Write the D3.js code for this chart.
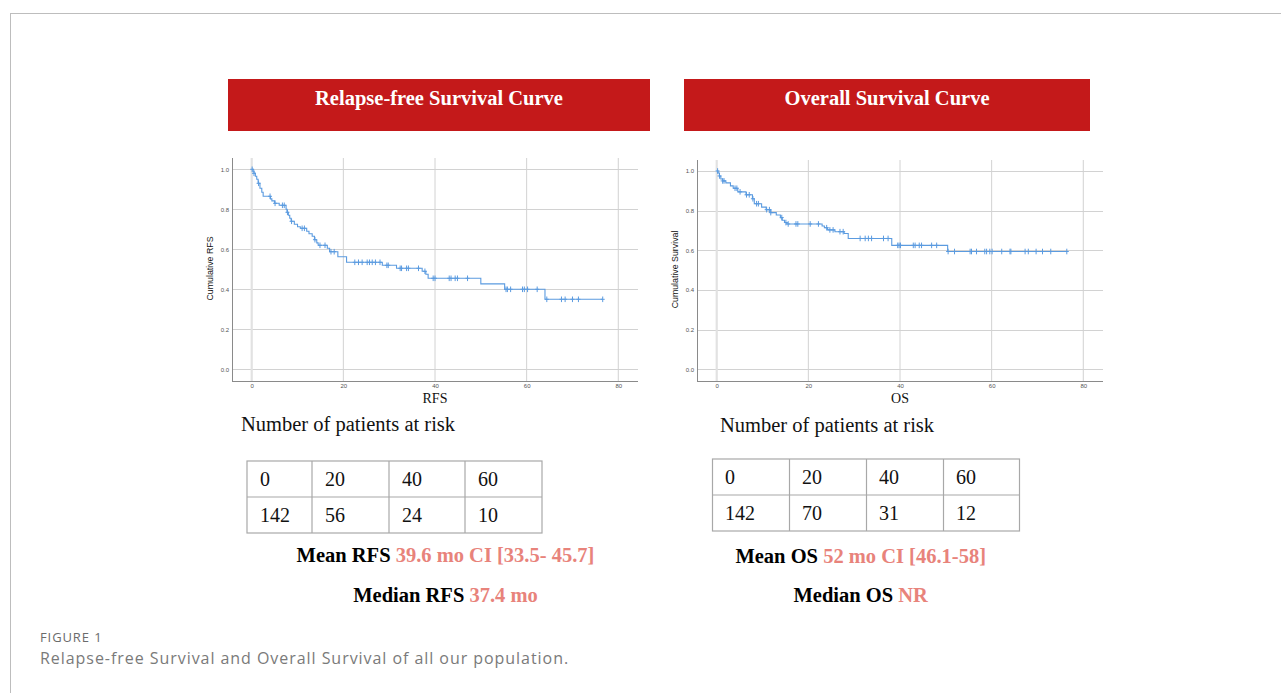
<!DOCTYPE html>
<html>
<head>
<meta charset="utf-8">
<script src="https://cdn.jsdelivr.net/npm/d3@7"></script>
<style>
  html, body { margin: 0; padding: 0; background: #fff; }
  svg { display: block; }
</style>
</head>
<body>
<svg id="chart" width="1281" height="693"></svg>
<script>
// ---------------- DATA ----------------
const xTicks = [0, 20, 40, 60, 80];
const yTicks = [0.0, 0.2, 0.4, 0.6, 0.8, 1.0];

// Relapse-free survival: step times (months) and survival after each drop
const rfsStepTimes = [0, 0.3, 0.5, 0.8, 1.1, 1.4, 1.8, 2.2, 2.5, 4.1, 4.4, 5.0, 6.0, 7.5, 7.7, 8.0, 8.3, 8.6, 9.3, 10.0, 10.6, 12.0, 12.5, 13.2, 13.7, 14.2, 14.5, 16.5, 17.0, 18.8, 20.7, 28.5, 31.6, 37.2, 38.0, 38.5, 50.0, 55.2, 64.0];
const rfsStepSurv  = [1.0, 0.99, 0.98, 0.965, 0.95, 0.93, 0.905, 0.885, 0.865, 0.852, 0.842, 0.83, 0.82, 0.80, 0.785, 0.77, 0.755, 0.74, 0.725, 0.713, 0.705, 0.69, 0.678, 0.665, 0.648, 0.632, 0.62, 0.605, 0.588, 0.563, 0.535, 0.52, 0.505, 0.49, 0.475, 0.455, 0.427, 0.40, 0.35];
const rfsEnd = 76.6;
const rfsCensored = [0.1, 0.5, 1.5, 4.0, 5.1, 6.7, 7.1, 7.8, 8.7, 11.0, 11.5, 13.8, 14.9, 16.0, 17.3, 18.0, 22.5, 23.3, 24.1, 25.2, 25.7, 26.3, 27.0, 28.0, 29.5, 29.8, 32.4, 32.7, 33.8, 34.2, 36.4, 37.8, 39.6, 40.0, 43.1, 43.5, 44.4, 44.9, 47.1, 55.5, 55.8, 56.5, 59.1, 59.5, 60.2, 62.3, 64.4, 67.6, 68.4, 70.0, 71.3, 76.6];

// Overall survival
const osStepTimes = [0, 0.3, 0.6, 0.9, 1.3, 2.0, 3.0, 3.6, 4.6, 6.4, 7.8, 8.2, 9.8, 10.8, 11.8, 13.0, 13.9, 14.3, 14.8, 15.3, 23.0, 23.5, 24.2, 25.8, 27.8, 28.7, 38.2, 50.4];
const osStepSurv  = [1.0, 0.99, 0.975, 0.96, 0.95, 0.94, 0.925, 0.913, 0.895, 0.88, 0.86, 0.835, 0.818, 0.805, 0.79, 0.778, 0.765, 0.752, 0.74, 0.733, 0.723, 0.714, 0.703, 0.694, 0.685, 0.66, 0.625, 0.594];
const osEnd = 76.4;
const osCensored = [0.2, 0.6, 1.3, 1.6, 4.0, 4.4, 5.1, 6.5, 7.1, 7.9, 8.7, 9.1, 10.9, 11.5, 11.8, 14.2, 15.1, 15.6, 17.3, 17.7, 20.4, 22.2, 24.0, 24.7, 25.4, 26.9, 27.6, 31.3, 32.4, 33.1, 33.8, 36.4, 37.4, 39.5, 39.8, 40.1, 42.9, 43.3, 44.2, 44.7, 46.9, 48.0, 50.5, 51.9, 55.3, 55.6, 56.7, 58.5, 58.9, 59.6, 60.1, 62.2, 64.0, 64.2, 67.3, 68.0, 69.7, 71.1, 72.9, 76.4];

// Numbers at risk
const riskTimes = [0, 20, 40, 60];
const rfsAtRisk = [142, 56, 24, 10];
const osAtRisk  = [142, 70, 31, 12];

const titles = ["Relapse-free Survival Curve", "Overall Survival Curve"];
const yLabels = ["Cumulative RFS", "Cumulative Survival"];
const xLabels = ["RFS", "OS"];
const meanLabels = [["Mean RFS ", "39.6 mo CI [33.5- 45.7]"], ["Mean OS ", "52 mo CI [46.1-58]"]];
const medianLabels = [["Median RFS ", "37.4 mo"], ["Median OS ", "NR"]];
const captionTitle = "FIGURE 1";
const captionText = "Relapse-free Survival and Overall Survival of all our population.";

// ---------------- DRAWING ----------------
const svg = d3.select("#chart");
const serif = "'Liberation Serif', 'Times New Roman', serif";
const sans = "'Liberation Sans', Arial, sans-serif";
const red = "#c4191a";
const pink = "#e8837b";
const curveColor = "#5b9be0";

// frame
svg.append("line").attr("x1", 10).attr("x2", 1281).attr("y1", 13.5).attr("y2", 13.5).attr("stroke", "#bdbdbd");
svg.append("line").attr("x1", 10.5).attr("x2", 10.5).attr("y1", 13).attr("y2", 693).attr("stroke", "#bdbdbd");

const panels = [
  { box: [228, 79, 422, 52], plot: { l: 232, r: 638, t: 158, b: 381 }, yDom: [-0.0585, 1.0565],
    times: rfsStepTimes, surv: rfsStepSurv, end: rfsEnd, cens: rfsCensored, risk: rfsAtRisk,
    table: { x: 247, y: 461, colW: [65, 77, 76, 77], rowH: 36, textDx: 13, base: [24.5, 61] },
    nrX: 241, nrY: 431, meanX: 445.5, meanY: 562, medY: 602, yLabX: 210 },
  { box: [684, 79, 406, 52], plot: { l: 697, r: 1103, t: 160, b: 381 }, yDom: [-0.059, 1.0555],
    times: osStepTimes, surv: osStepSurv, end: osEnd, cens: osCensored, risk: osAtRisk,
    table: { x: 712.5, y: 459, colW: [77, 77, 77, 76], rowH: 36, textDx: 12.5, base: [24.5, 61] },
    nrX: 720, nrY: 432, meanX: 860.7, meanY: 563, medY: 602, yLabX: 675 }
];

panels.forEach((p, i) => {
  const g = svg.append("g");
  // title box
  g.append("rect").attr("x", p.box[0]).attr("y", p.box[1]).attr("width", p.box[2]).attr("height", p.box[3]).attr("fill", red);
  g.append("text").attr("x", p.box[0] + p.box[2] / 2).attr("y", p.box[1] + 26)
    .attr("text-anchor", "middle").attr("font-family", serif).attr("font-weight", "bold")
    .attr("font-size", 20.5).attr("fill", "#fff").text(titles[i]);

  const x = d3.scaleLinear().domain([-4.3, 84.3]).range([p.plot.l, p.plot.r]);
  const y = d3.scaleLinear().domain(p.yDom).range([p.plot.b, p.plot.t]);

  // gridlines
  g.append("g").selectAll("line").data(yTicks).join("line")
    .attr("x1", p.plot.l).attr("x2", p.plot.r)
    .attr("y1", d => Math.round(y(d)) + 0.5).attr("y2", d => Math.round(y(d)) + 0.5)
    .attr("stroke", "#d2d2d2").attr("stroke-width", 1);
  g.append("g").selectAll("line").data(xTicks).join("line")
    .attr("x1", d => x(d)).attr("x2", d => x(d))
    .attr("y1", p.plot.t).attr("y2", p.plot.b)
    .attr("stroke", d => d === 0 ? "#e2e2e2" : "#d2d2d2").attr("stroke-width", d => d === 0 ? 2.2 : 1);

  // axes
  const yAxis = d3.axisLeft(y).tickValues(yTicks).tickSize(0).tickPadding(3.5).tickFormat(d3.format(".1f"));
  const xAxis = d3.axisBottom(x).tickValues(xTicks).tickSize(0).tickPadding(2.5).tickFormat(d3.format("d"));
  const ya = g.append("g").attr("transform", `translate(${p.plot.l + 0.5},0)`).call(yAxis);
  const xa = g.append("g").attr("transform", `translate(0,${p.plot.b + 0.5})`).call(xAxis);
  [ya, xa].forEach(a => {
    a.select(".domain").attr("stroke", "#8a8a8a");
    a.selectAll("text").attr("font-family", sans).attr("font-size", 6).attr("fill", "#555");
  });
  xa.select(".domain").attr("d", `M${p.plot.l},0H${p.plot.r}`);
  ya.select(".domain").attr("d", `M0,${p.plot.t}V${p.plot.b}`);

  // axis titles
  g.append("text").attr("transform", `translate(${p.yLabX},${(p.plot.t + p.plot.b) / 2 - 1}) rotate(-90)`)
    .attr("text-anchor", "middle").attr("dominant-baseline", "central")
    .attr("font-family", sans).attr("font-size", 8.8).attr("fill", "#111").text(yLabels[i]);
  g.append("text").attr("x", x(40)).attr("y", 402.5).attr("text-anchor", "middle")
    .attr("font-family", serif).attr("font-size", 14).attr("fill", "#111").text(xLabels[i]);

  // KM step curve
  const pts = p.times.map((t, k) => [t, p.surv[k]]);
  pts.push([p.end, p.surv[p.surv.length - 1]]);
  const line = d3.line().x(d => x(d[0])).y(d => y(d[1])).curve(d3.curveStepAfter);
  g.append("path").datum(pts).attr("d", line).attr("fill", "none")
    .attr("stroke", curveColor).attr("stroke-width", 1.1);

  // censor marks
  const survAt = t => {
    let s = p.surv[0];
    for (let k = 0; k < p.times.length; k++) { if (p.times[k] <= t) s = p.surv[k]; }
    return s;
  };
  g.append("g").selectAll("path").data(p.cens).join("path")
    .attr("d", t => { const cx = x(t), cy = y(survAt(t)); return `M${cx},${cy - 2.8}V${cy + 2.8}M${cx - 2},${cy}H${cx + 2}`; })
    .attr("stroke", curveColor).attr("stroke-width", 1).attr("fill", "none");

  // number at risk
  g.append("text").attr("x", p.nrX).attr("y", p.nrY).attr("font-family", serif)
    .attr("font-size", 20.5).attr("fill", "#111").text("Number of patients at risk");

  const tb = p.table;
  const colX = [tb.x];
  tb.colW.forEach((w, k) => colX.push(colX[k] + w));
  const tg = g.append("g");
  const rows = [riskTimes, p.risk];
  tg.append("rect").attr("x", tb.x).attr("y", tb.y).attr("width", colX[4] - tb.x).attr("height", tb.rowH * 2)
    .attr("fill", "none").attr("stroke", "#a8a8a8").attr("stroke-width", 1.2);
  tg.append("line").attr("x1", tb.x).attr("x2", colX[4]).attr("y1", tb.y + tb.rowH).attr("y2", tb.y + tb.rowH)
    .attr("stroke", "#a8a8a8").attr("stroke-width", 1.2);
  tg.selectAll("line.c").data(colX.slice(1, 4)).join("line").attr("class", "c")
    .attr("x1", d => d).attr("x2", d => d).attr("y1", tb.y).attr("y2", tb.y + tb.rowH * 2)
    .attr("stroke", "#a8a8a8").attr("stroke-width", 1.2);
  rows.forEach((r, ri) => {
    tg.selectAll(`text.r${ri}`).data(r).join("text").attr("class", `r${ri}`)
      .attr("x", (d, k) => colX[k] + tb.textDx).attr("y", tb.y + tb.base[ri])
      .attr("font-family", serif).attr("font-size", 20).attr("fill", "#111").text(d => d);
  });

  // mean / median
  [[meanLabels[i], p.meanY], [medianLabels[i], p.medY]].forEach(([lab, yy]) => {
    const t = g.append("text").attr("x", p.meanX).attr("y", yy).attr("text-anchor", "middle")
      .attr("font-family", serif).attr("font-weight", "bold").attr("font-size", 20.5);
    t.append("tspan").attr("fill", "#000").text(lab[0]);
    t.append("tspan").attr("fill", pink).text(lab[1]);
  });
});

// caption
svg.append("text").attr("x", 40).attr("y", 642).attr("font-family", "'Open Sans', sans-serif")
  .attr("font-size", 13).attr("fill", "#6b6b6b").attr("letter-spacing", 0.9).text(captionTitle);
svg.append("text").attr("x", 40).attr("y", 664).attr("font-family", "'Open Sans', sans-serif")
  .attr("font-size", 16).attr("fill", "#7a7a7a").attr("letter-spacing", 0.95).text(captionText);
</script>
</body>
</html>
